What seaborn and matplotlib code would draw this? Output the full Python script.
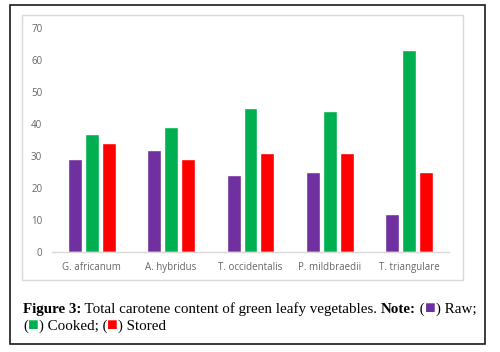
import numpy as np
import pandas as pd
import matplotlib
matplotlib.use('Agg')
import matplotlib.pyplot as plt
from matplotlib.patches import Rectangle
import seaborn as sns

# data
vegetables = ['G. africanum', 'A. hybridus', 'T. occidentalis', 'P. mildbraedii', 'T. triangulare']
raw = [29, 32, 24, 25, 12]
cooked = [37, 39, 45, 44, 63]
stored = [34, 29, 31, 31, 25]
treatments = ['Raw', 'Cooked', 'Stored']
colors = ['#7030A0', '#00B050', '#FF0000']

df = pd.DataFrame({
    'vegetable': vegetables * 3,
    'treatment': np.repeat(treatments, len(vegetables)),
    'value': raw + cooked + stored,
})

sns.set_style('white')
W, H = 500, 352
fig = plt.figure(figsize=(W / 100, H / 100), dpi=100)


def px(x0, y0, x1, y1):
    return [x0 / W, 1 - y1 / H, (x1 - x0) / W, (y1 - y0) / H]


# outer black frame and grey chart frame
fig.patches.append(Rectangle((10 / W, 1 - 344 / H), 475 / W, 339 / H, transform=fig.transFigure,
                             fill=False, edgecolor='#1a1a1a', linewidth=1.2))
fig.patches.append(Rectangle((22 / W, 1 - 280 / H), 441 / W, 265 / H, transform=fig.transFigure,
                             fill=False, edgecolor='#D9D9D9', linewidth=1.0))

ax = fig.add_axes(px(52, 28, 449, 252))
sns.barplot(data=df, x='vegetable', y='value', hue='treatment',
            palette=colors, width=0.64, gap=0.18, legend=False, ax=ax, saturation=1)
ax.set_ylim(0, 70)
ax.set_yticks(range(0, 71, 10))
ax.set_xlabel('')
ax.set_ylabel('')
for s in ['top', 'right', 'left']:
    ax.spines[s].set_visible(False)
ax.spines['bottom'].set_color('#D9D9D9')
ax.spines['bottom'].set_linewidth(1.0)
ax.tick_params(axis='both', length=0, labelsize=7, labelcolor='#666666')
ax.tick_params(axis='y', pad=7)
ax.tick_params(axis='x', pad=7)
for lab in ax.get_xticklabels() + ax.get_yticklabels():
    lab.set_fontfamily('Open Sans')

# caption in pieces, all on one baseline per line
serif = ['Liberation Serif', 'DejaVu Sans']
fs = 10.8
sq = '\u25A0'
pieces1 = [('Figure 3:', 'bold', 'black', fs), (' Total carotene content of green leafy vegetables. ', 'normal', 'black', fs),
           ('Note:', 'bold', 'black', fs), (' (', 'normal', 'black', fs), (sq, 'normal', colors[0], 13),
           (') Raw;', 'normal', 'black', fs)]
pieces2 = [('(', 'normal', 'black', fs), (sq, 'normal', colors[1], 13), (') Cooked; (', 'normal', 'black', fs),
           (sq, 'normal', colors[2], 13), (') Stored', 'normal', 'black', fs)]

renderer = fig.canvas.get_renderer()


def chain(pieces, x, y):
    xpos = x
    for txt, weight, col, size in pieces:
        t = fig.text(xpos / W, 1 - y / H, txt, fontsize=size, fontweight=weight, color=col,
                     family=serif, va='baseline', ha='left')
        xpos += t.get_window_extent(renderer).width


chain(pieces1, 23, 313)
chain(pieces2, 23, 330)

fig.savefig('out.png', dpi=100)
